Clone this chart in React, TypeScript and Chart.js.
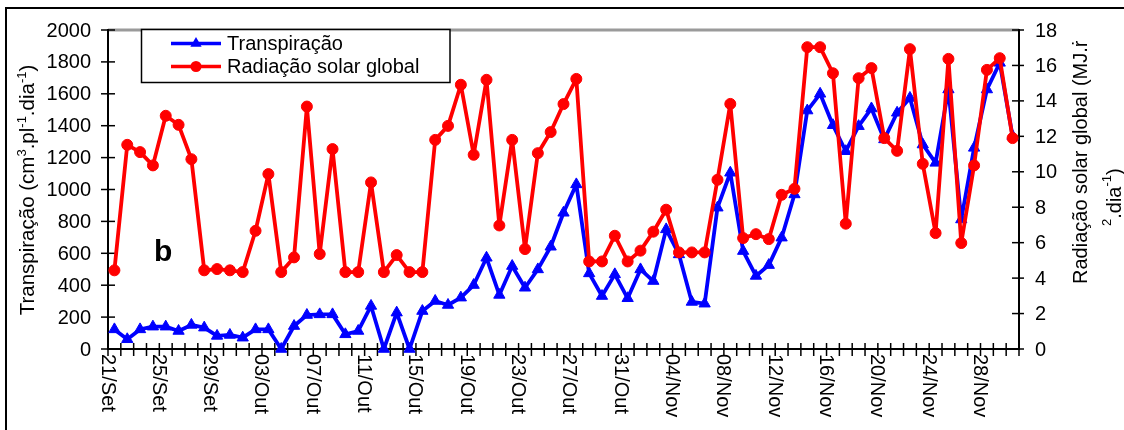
import React, { useEffect, useRef } from "react";
import { Chart, registerables } from "chart.js";

Chart.register(...registerables);

// Daily series, 21 September to 30 November
const dias = [
  "21/Set", "22/Set", "23/Set", "24/Set", "25/Set", "26/Set", "27/Set", "28/Set", "29/Set", "30/Set",
  "01/Out", "02/Out", "03/Out", "04/Out", "05/Out", "06/Out", "07/Out", "08/Out", "09/Out", "10/Out",
  "11/Out", "12/Out", "13/Out", "14/Out", "15/Out", "16/Out", "17/Out", "18/Out", "19/Out", "20/Out",
  "21/Out", "22/Out", "23/Out", "24/Out", "25/Out", "26/Out", "27/Out", "28/Out", "29/Out", "30/Out",
  "31/Out", "01/Nov", "02/Nov", "03/Nov", "04/Nov", "05/Nov", "06/Nov", "07/Nov", "08/Nov", "09/Nov",
  "10/Nov", "11/Nov", "12/Nov", "13/Nov", "14/Nov", "15/Nov", "16/Nov", "17/Nov", "18/Nov", "19/Nov",
  "20/Nov", "21/Nov", "22/Nov", "23/Nov", "24/Nov", "25/Nov", "26/Nov", "27/Nov", "28/Nov", "29/Nov",
  "30/Nov",
];

// Dates printed under the category axis
const diasRotulados = [
  "21/Set", "25/Set", "29/Set", "03/Out", "07/Out", "11/Out", "15/Out", "19/Out", "23/Out",
  "27/Out", "31/Out", "04/Nov", "08/Nov", "12/Nov", "16/Nov", "20/Nov", "24/Nov", "28/Nov",
];

// Transpiração (cm³.pl⁻¹.dia⁻¹)
const transpiracao = [
  123, 61, 123, 140, 140, 113, 151, 134, 82, 88,
  71, 123, 123, 0, 144, 213, 217, 217, 92, 113,
  270, 0, 228, 0, 238, 301, 276, 322, 401, 572,
  339, 520, 384, 499, 641, 854, 1032, 474, 332, 468,
  318, 499, 426, 750, 593, 295, 284, 886, 1105, 614,
  458, 526, 698, 969, 1495, 1600, 1403, 1240, 1397, 1508,
  1314, 1481, 1574, 1282, 1167, 1627, 812, 1261, 1627, 1794,
  1335,
];

// Radiação solar global (MJ.m⁻².dia⁻¹)
const radiacao = [
  4.44, 11.52, 11.11, 10.36, 13.16, 12.65, 10.71, 4.44, 4.51, 4.44,
  4.34, 6.67, 9.87, 4.34, 5.17, 13.68, 5.36, 11.28, 4.34, 4.34,
  9.4, 4.34, 5.3, 4.34, 4.34, 11.8, 12.59, 14.91, 10.96, 15.19,
  6.97, 11.8, 5.64, 11.05, 12.24, 13.82, 15.24, 4.94, 4.94, 6.39,
  4.94, 5.55, 6.62, 7.86, 5.45, 5.45, 5.45, 9.55, 13.83, 6.26,
  6.48, 6.2, 8.7, 9.04, 17.03, 17.03, 15.56, 7.07, 15.28, 15.85,
  11.9, 11.18, 16.92, 10.45, 6.54, 16.37, 5.98, 10.36, 15.75, 16.41,
  11.9,
];

const ticksTranspiracao = [0, 200, 400, 600, 800, 1000, 1200, 1400, 1600, 1800, 2000];
const ticksRadiacao = [0, 2, 4, 6, 8, 10, 12, 14, 16, 18];

const FAMILY = "'Liberation Sans', Arial, Helvetica, sans-serif";
const AZUL = "#0000ff";
const VERMELHO = "#ff0000";

type Seg = { t: string; sup?: boolean };

function drawSegs(
  ctx: CanvasRenderingContext2D,
  segs: Seg[],
  x: number,
  y: number,
  angle: number,
  size: number,
  supSize: number,
  rise: number,
  centered: boolean
) {
  ctx.save();
  ctx.translate(x, y);
  ctx.rotate(angle);
  ctx.textAlign = "left";
  ctx.textBaseline = "alphabetic";
  ctx.fillStyle = "#000";
  const widths = segs.map((s) => {
    ctx.font = `${s.sup ? supSize : size}px ${FAMILY}`;
    return ctx.measureText(s.t).width;
  });
  const total = widths.reduce((a, b) => a + b, 0);
  let cx = centered ? -total / 2 : 0;
  segs.forEach((s, i) => {
    ctx.font = `${s.sup ? supSize : size}px ${FAMILY}`;
    ctx.fillText(s.t, cx, s.sup ? -rise : 0);
    cx += widths[i];
  });
  ctx.restore();
}

function seg(ctx: CanvasRenderingContext2D, x1: number, y1: number, x2: number, y2: number) {
  ctx.beginPath();
  ctx.moveTo(x1, y1);
  ctx.lineTo(x2, y2);
  ctx.stroke();
}

function triangle(ctx: CanvasRenderingContext2D, x: number, y: number, r: number) {
  ctx.beginPath();
  ctx.moveTo(x, y - r);
  ctx.lineTo(x + r * 0.866, y + r / 2);
  ctx.lineTo(x - r * 0.866, y + r / 2);
  ctx.closePath();
  ctx.fill();
}

const moldura = {
  id: "moldura",
  beforeDatasetsDraw(chart: any) {
    const { ctx, chartArea: a, scales } = chart;
    const xs = scales.x;
    const ys = scales.y;
    const ys2 = scales.y2;
    ctx.save();
    ctx.lineCap = "butt";

    // upper frame line
    ctx.strokeStyle = "#9a9a9a";
    ctx.lineWidth = 3;
    seg(ctx, a.left, a.top, a.right, a.top);

    // axes
    ctx.strokeStyle = "#000";
    ctx.lineWidth = 2;
    seg(ctx, a.left, a.top - 1, a.left, a.bottom + 1);
    seg(ctx, a.right, a.top - 1, a.right, a.bottom + 1);
    seg(ctx, a.left, a.bottom, a.right, a.bottom);

    // tick marks crossing the axes
    ctx.lineWidth = 1.5;
    ticksTranspiracao.forEach((v) => {
      const p = ys.getPixelForValue(v);
      seg(ctx, a.left - 7, p, a.left + 7, p);
    });
    ticksRadiacao.forEach((v) => {
      const p = ys2.getPixelForValue(v);
      seg(ctx, a.right - 7, p, a.right + 5, p);
    });
    const step = xs.getPixelForValue(1) - xs.getPixelForValue(0);
    for (let k = 0; k <= dias.length; k++) {
      const p = k < dias.length ? xs.getPixelForValue(k) - step / 2 : xs.getPixelForValue(dias.length - 1) + step / 2;
      seg(ctx, p, a.bottom - 6, p, a.bottom + 7);
    }
    ctx.restore();
  },
  afterDraw(chart: any) {
    const { ctx, chartArea: a, scales } = chart;
    const xs = scales.x;
    const ys = scales.y;
    const ys2 = scales.y2;
    ctx.save();

    // outer border
    ctx.strokeStyle = "#000";
    ctx.lineWidth = 2;
    seg(ctx, 6, 8, 1124, 8);
    seg(ctx, 6, 7, 6, 430);

    // value ticks
    ctx.fillStyle = "#000";
    ctx.font = `20px ${FAMILY}`;
    ctx.textBaseline = "middle";
    ctx.textAlign = "right";
    ticksTranspiracao.forEach((v) => {
      ctx.fillText(String(v), a.left - 17, ys.getPixelForValue(v) + 1);
    });
    ctx.textAlign = "left";
    ticksRadiacao.forEach((v) => {
      ctx.fillText(String(v), a.right + 16, ys2.getPixelForValue(v) + 1);
    });

    // date labels, read downwards
    const step = xs.getPixelForValue(1) - xs.getPixelForValue(0);
    ctx.textBaseline = "alphabetic";
    ctx.textAlign = "left";
    diasRotulados.forEach((d) => {
      const k = dias.indexOf(d);
      const p = xs.getPixelForValue(k) - step / 2;
      ctx.save();
      ctx.translate(p - 6.5, a.bottom + 5);
      ctx.rotate(Math.PI / 2);
      ctx.fillText(d, 0, 0);
      ctx.restore();
    });

    // axis titles
    drawSegs(
      ctx,
      [
        { t: "Transpiração (cm" },
        { t: "3", sup: true },
        { t: ".pl" },
        { t: "-1", sup: true },
        { t: ".dia" },
        { t: "-1", sup: true },
        { t: ")" },
      ],
      34,
      190,
      -Math.PI / 2,
      20.5,
      13,
      8,
      true
    );
    drawSegs(ctx, [{ t: "Radiação solar global (MJ.ṙ" }], 1087, 284, -Math.PI / 2, 20, 13, 8, false);
    drawSegs(
      ctx,
      [{ t: "2", sup: true }, { t: ".dia" }, { t: "-1", sup: true }, { t: ")" }],
      1121,
      226,
      -Math.PI / 2,
      20,
      13,
      10,
      false
    );

    // panel letter
    ctx.font = `bold 30px ${FAMILY}`;
    ctx.fillStyle = "#000";
    ctx.fillText("b", 154, 261);

    // legend
    const lx = 141.5;
    const ly = 29.5;
    ctx.fillStyle = "#fff";
    ctx.fillRect(lx, ly, 308.5, 53);
    ctx.strokeStyle = "#000";
    ctx.lineWidth = 1.5;
    ctx.strokeRect(lx, ly, 308.5, 53);
    const linhas = [
      { nome: chart.data.datasets[0].label, cor: AZUL, y: 43.5, tri: true },
      { nome: chart.data.datasets[1].label, cor: VERMELHO, y: 66.5, tri: false },
    ];
    linhas.forEach((l) => {
      ctx.strokeStyle = l.cor;
      ctx.fillStyle = l.cor;
      ctx.lineWidth = 3.5;
      seg(ctx, 171, l.y, 221, l.y);
      if (l.tri) {
        triangle(ctx, 196, l.y, 6.5);
      } else {
        ctx.beginPath();
        ctx.arc(196, l.y, 5.5, 0, Math.PI * 2);
        ctx.fill();
      }
      ctx.fillStyle = "#000";
      ctx.font = `20px ${FAMILY}`;
      ctx.textBaseline = "middle";
      ctx.textAlign = "left";
      ctx.fillText(l.nome, 227, l.y + 1);
    });

    ctx.restore();
  },
};

export default function App() {
  const canvasRef = useRef<HTMLCanvasElement | null>(null);

  useEffect(() => {
    const canvas = canvasRef.current;
    if (!canvas) return;
    const chart = new Chart(canvas, {
      type: "line",
      data: {
        labels: dias,
        datasets: [
          {
            label: "Transpiração",
            data: transpiracao,
            yAxisID: "y",
            borderColor: AZUL,
            backgroundColor: AZUL,
            pointBackgroundColor: AZUL,
            pointBorderColor: AZUL,
            borderWidth: 3.8,
            borderJoinStyle: "round",
            borderCapStyle: "round",
            pointStyle: "triangle",
            pointRadius: 6.5,
            pointBorderWidth: 1,
            tension: 0,
            clip: false,
            order: 1,
          },
          {
            label: "Radiação solar global",
            data: radiacao,
            yAxisID: "y2",
            borderColor: VERMELHO,
            backgroundColor: VERMELHO,
            pointBackgroundColor: VERMELHO,
            pointBorderColor: VERMELHO,
            borderWidth: 3.8,
            borderJoinStyle: "round",
            borderCapStyle: "round",
            pointStyle: "circle",
            pointRadius: 5.5,
            pointBorderWidth: 1,
            tension: 0,
            clip: false,
            order: 0,
          },
        ],
      },
      options: {
        responsive: false,
        animation: false,
        devicePixelRatio: 1,
        events: [],
        layout: { padding: { left: 108, right: 105, top: 30, bottom: 81 } },
        plugins: {
          legend: { display: false },
          tooltip: { enabled: false },
          title: { display: false },
        },
        scales: {
          x: { type: "category", offset: true, display: false },
          y: { type: "linear", min: 0, max: 2000, display: false },
          y2: { type: "linear", position: "right", min: 0, max: 18, display: false },
        },
      },
      plugins: [moldura],
    });
    return () => chart.destroy();
  }, []);

  return (
    <div style={{ position: "fixed", left: 0, top: 0, width: 1124, height: 430, background: "#fff" }}>
      <canvas ref={canvasRef} width={1124} height={430} style={{ display: "block" }} />
    </div>
  );
}
